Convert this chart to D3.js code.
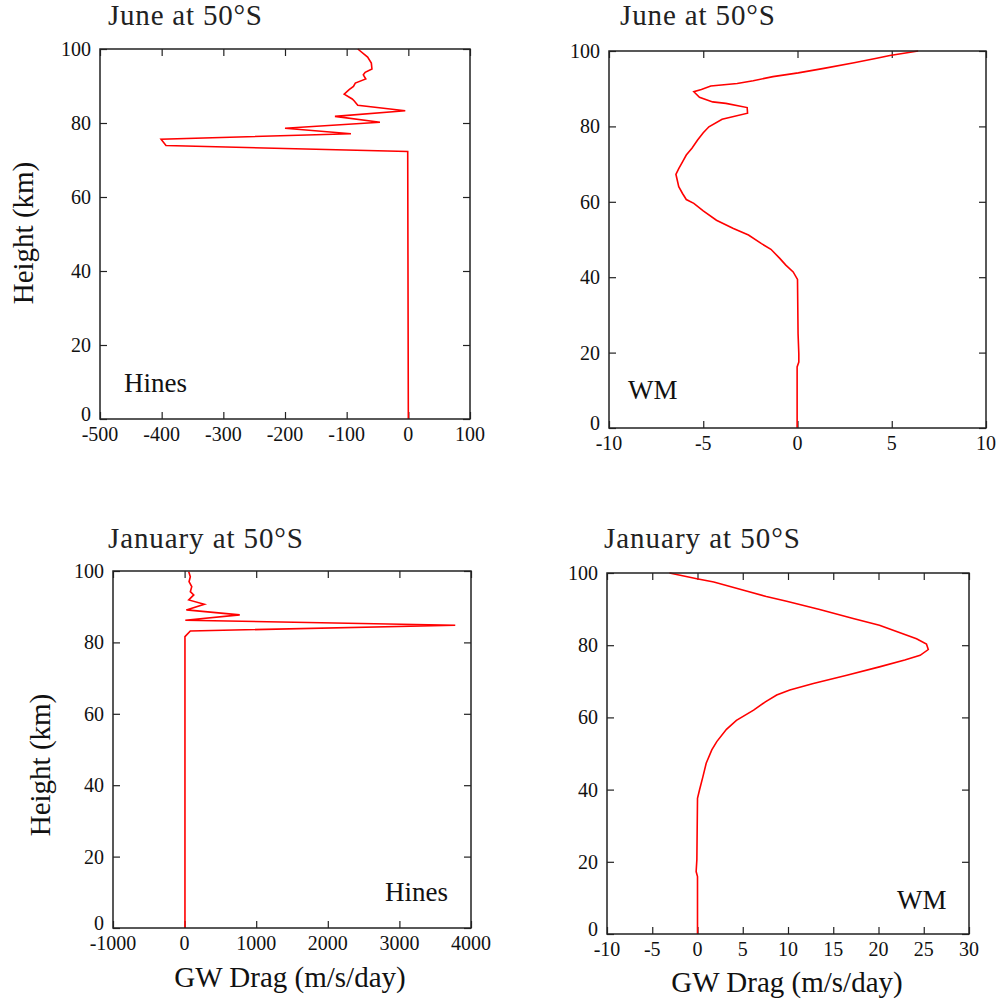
<!DOCTYPE html>
<html>
<head>
<meta charset="utf-8">
<style>
body { margin: 0; background: #fff; }
svg { display: block; }
text { font-family: "Liberation Serif", "Times New Roman", Times, "DejaVu Serif", serif; }
.tick-label { font-size: 20px; fill: #111; }
.title { font-size: 29px; fill: #222; }
.axis-title { font-size: 29px; fill: #111; }
.note { font-size: 27px; fill: #111; }
.frame { fill: none; stroke: #222; stroke-width: 1.5; }
.profile { fill: none; stroke: #ff0000; stroke-width: 1.6; stroke-linejoin: miter; }
</style>
</head>
<body>
<script src="https://d3js.org/d3.v7.min.js"></script>
<script>
// heights (km) and drag values (m/s/day)

// June, Hines
var juneHinesH = [0, 72.3, 73.9, 75.6, 77.1, 78.6, 80.2, 81.8, 83.3, 84.8, 86.0, 86.5, 87.8, 89.0, 89.9, 90.8, 91.9, 93.0, 93.7, 94.6, 96.2, 97.8, 100];
var juneHinesV = [0, -1, -393, -401, -93, -200, -46, -119, -5, -82, -88, -91, -104, -96, -89, -86, -69, -73, -70, -59, -60, -66, -82];

// June, WM
var juneWmH = [0, 16.2, 17.5, 19.7, 25, 39.4, 41.4, 43.2, 45, 47.4, 48.9, 51.2, 52.9, 55.1, 57.6, 59.6, 60.6, 62.2, 64.0, 67.3, 68.8, 70.6, 72.4, 74.2, 76.4, 78.3, 79.9, 81.9, 83.5, 85.0, 86.1, 86.5, 87.7, 89.2, 89.8, 90.7, 91.4, 92.1, 93.2, 94.2, 95.4, 96.9, 98.1, 98.8, 100];
var juneWmV = [-0.02, -0.02, 0.07, 0.07, 0.03, 0, -0.23, -0.62, -0.94, -1.41, -1.91, -2.6, -3.4, -4.3, -5.0, -5.5, -5.9, -6.1, -6.3, -6.45, -6.3, -6.1, -5.9, -5.6, -5.3, -5.0, -4.7, -4.0, -2.65, -2.67, -3.8, -4.5, -5.2, -5.5, -5.1, -4.6, -3.2, -2.35, -1.3, 0.04, 1.4, 3.0, 4.2, 4.9, 6.4];

// January, Hines
var janHinesH = [0, 81.6, 83.2, 84.8, 86.2, 87.7, 89.1, 90.7, 91.9, 93.3, 94.2, 95.6, 97.0, 98.4, 99.8];
var janHinesV = [5, 5, 80, 3780, 10, 770, 25, 275, 58, 128, 80, 100, 62, 80, 58];

// January, WM
var janWmH = [0, 15.9, 17.3, 20.6, 37.6, 39.9, 43.6, 47.3, 51.0, 53.3, 56.7, 59.2, 62.0, 64.3, 66.2, 67.6, 69.4, 71.7, 74.0, 75.9, 77.2, 78.8, 80.3, 81.8, 85.5, 87.4, 89.9, 92.2, 93.5, 95.0, 97.5, 98.4, 100];
var janWmV = [0, 0, -0.15, -0.07, 0, 0.22, 0.6, 0.96, 1.58, 2.13, 3.2, 4.3, 6.2, 7.5, 8.75, 10.2, 12.8, 16.5, 20.1, 22.9, 24.6, 25.5, 25.3, 24.2, 20.1, 17.2, 13.5, 9.85, 7.6, 5.4, 1.8, -0.07, -3.1];

var heightTicks = [0, 20, 40, 60, 80, 100];
var hinesJuneTicks = [-500, -400, -300, -200, -100, 0, 100];
var wmJuneTicks = [-10, -5, 0, 5, 10];
var hinesJanTicks = [-1000, 0, 1000, 2000, 3000, 4000];
var wmJanTicks = [-10, -5, 0, 5, 10, 15, 20, 25, 30];

var titles = ["June at 50\u00B0S", "June at 50\u00B0S", "January at 50\u00B0S", "January at 50\u00B0S"];
var schemes = ["Hines", "WM", "Hines", "WM"];

var svg = d3.select("body").append("svg")
	.attr("width", 1000)
	.attr("height", 1006);

var panels = [
	{ h: juneHinesH, v: juneHinesV, ticks: hinesJuneTicks, x0: 100, x1: 470, y0: 49, y1: 419,
	  title: titles[0], tx: 108, ty: 25, tw: 154, note: schemes[0], nx: 124, ny: 392, ylab: [23, 233], xlab: null },
	{ h: juneWmH, v: juneWmV, ticks: wmJuneTicks, x0: 609, x1: 986, y0: 51, y1: 428,
	  title: titles[1], tx: 620, ty: 25, tw: 155, note: schemes[1], nx: 628, ny: 399, ylab: null, xlab: null },
	{ h: janHinesH, v: janHinesV, ticks: hinesJanTicks, x0: 113, x1: 471, y0: 571, y1: 928,
	  title: titles[2], tx: 108, ty: 548, tw: 195, note: schemes[2], nx: 385, ny: 901, ylab: [40, 765], xlab: [290, 987] },
	{ h: janWmH, v: janWmV, ticks: wmJanTicks, x0: 607, x1: 969, y0: 573, y1: 934,
	  title: titles[3], tx: 604, ty: 548, tw: 196, note: schemes[3], nx: 897, ny: 909, ylab: null, xlab: [787, 992] }
];

panels.forEach(function(p) {
	var x = d3.scaleLinear()
		.domain([p.ticks[0], p.ticks[p.ticks.length - 1]])
		.range([p.x0, p.x1]);
	var y = d3.scaleLinear()
		.domain([0, 100])
		.range([p.y1, p.y0]);

	var g = svg.append("g");

	// mirrored inner ticks, gnuplot style
	g.append("g")
		.attr("transform", "translate(0," + p.y1 + ")")
		.call(d3.axisBottom(x).tickValues(p.ticks).tickSize(-7).tickFormat(""));
	g.append("g")
		.attr("transform", "translate(0," + p.y0 + ")")
		.call(d3.axisTop(x).tickValues(p.ticks).tickSize(-7).tickFormat(""));
	g.append("g")
		.attr("transform", "translate(" + p.x0 + ",0)")
		.call(d3.axisLeft(y).tickValues(heightTicks).tickSize(-7).tickFormat(""));
	g.append("g")
		.attr("transform", "translate(" + p.x1 + ",0)")
		.call(d3.axisRight(y).tickValues(heightTicks).tickSize(-7).tickFormat(""));
	g.selectAll(".domain").remove();
	g.selectAll(".tick line").attr("stroke", "#222").attr("stroke-width", 1.2);

	g.selectAll(".xl")
		.data(p.ticks)
		.enter().append("text")
		.attr("class", "tick-label")
		.attr("x", function(d) { return x(d); })
		.attr("y", p.y1 + 22)
		.attr("text-anchor", "middle")
		.text(function(d) { return d; });

	g.selectAll(".yl")
		.data(heightTicks)
		.enter().append("text")
		.attr("class", "tick-label")
		.attr("x", p.x0 - 9)
		.attr("y", function(d) { return y(d) + (d === 0 ? 2 : 7); })
		.attr("text-anchor", "end")
		.text(function(d) { return d; });

	var line = d3.line()
		.x(function(d) { return x(d[1]); })
		.y(function(d) { return y(d[0]); });

	g.append("path")
		.datum(d3.zip(p.h, p.v))
		.attr("class", "profile")
		.attr("d", line);

	g.append("rect")
		.attr("class", "frame")
		.attr("x", p.x0)
		.attr("y", p.y0)
		.attr("width", p.x1 - p.x0)
		.attr("height", p.y1 - p.y0);

	g.append("text").attr("class", "title")
		.attr("x", p.tx).attr("y", p.ty)
		.attr("textLength", p.tw)
		.attr("lengthAdjust", "spacing")
		.text(p.title);

	g.append("text").attr("class", "note")
		.attr("x", p.nx).attr("y", p.ny)
		.text(p.note);

	if (p.ylab) {
		g.append("text").attr("class", "axis-title")
			.attr("transform", "translate(" + p.ylab[0] + "," + p.ylab[1] + ") rotate(-90)")
			.attr("text-anchor", "middle")
			.attr("dy", "0.35em")
			.text("Height (km)");
	}
	if (p.xlab) {
		g.append("text").attr("class", "axis-title")
			.attr("x", p.xlab[0]).attr("y", p.xlab[1])
			.attr("text-anchor", "middle")
			.text("GW Drag (m/s/day)");
	}
});
</script>
</body>
</html>
